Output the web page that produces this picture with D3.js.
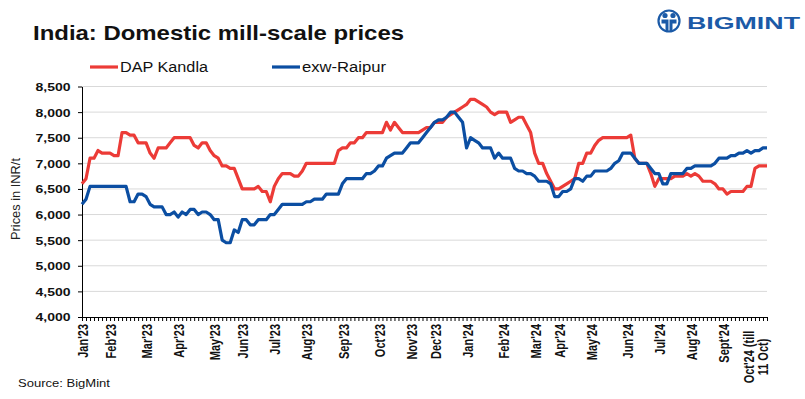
<!DOCTYPE html>
<html><head><meta charset="utf-8">
<script src="https://cdn.jsdelivr.net/npm/d3@7"></script>
<style>body{margin:0;background:#fff}svg{display:block}</style>
</head><body><svg id="c" width="805" height="399"></svg>
<script>
// ---- data ----
const seriesNames = ["DAP Kandla", "exw-Raipur"];
const dapKandla = [
  6600, 6700, 7100, 7100, 7250, 7200, 7200, 7200, 7150, 7150,
  7600, 7600, 7550, 7550, 7400, 7400, 7400, 7200, 7100, 7300,
  7300, 7300, 7400, 7500, 7500, 7500, 7500, 7500, 7350, 7300,
  7400, 7400, 7250, 7150, 7100, 6950, 6950, 6900, 6900, 6700,
  6500, 6500, 6500, 6500, 6550, 6450, 6450, 6250, 6550, 6700,
  6800, 6800, 6800, 6750, 6750, 6850, 7000, 7000, 7000, 7000,
  7000, 7000, 7000, 7000, 7250, 7300, 7300, 7400, 7400, 7500,
  7500, 7600, 7600, 7600, 7600, 7600, 7800, 7650, 7800, 7700,
  7600, 7600, 7600, 7600, 7600, 7650, 7700, 7700, 7800, 7800,
  7800, 7900, 7950, 8000, 8050, 8100, 8150, 8250, 8250, 8200,
  8150, 8100, 8000, 7950, 8000, 8000, 8000, 7800, 7850, 7900,
  7900, 7750, 7600, 7200, 7000, 7000, 6800, 6650, 6500, 6500,
  6550, 6600, 6650, 6700, 7000, 7000, 7200, 7200, 7350, 7450,
  7500, 7500, 7500, 7500, 7500, 7500, 7500, 7550, 7100, 7000,
  7000, 7000, 6800, 6550, 6700, 6700, 6700, 6700, 6750, 6750,
  6750, 6800, 6750, 6800, 6750, 6650, 6650, 6650, 6600, 6500,
  6500, 6400, 6450, 6450, 6450, 6450, 6550, 6550, 6900, 6950,
  6950, 6950
];
const exwRaipur = [
  6200, 6300, 6550, 6550, 6550, 6550, 6550, 6550, 6550, 6550,
  6550, 6550, 6250, 6250, 6400, 6400, 6350, 6200, 6150, 6150,
  6150, 6000, 6000, 6050, 5950, 6050, 6000, 6100, 6100, 6000,
  6050, 6050, 6000, 5900, 5900, 5500, 5450, 5450, 5700, 5650,
  5900, 5900, 5800, 5800, 5900, 5900, 5900, 6000, 6000, 6100,
  6200, 6200, 6200, 6200, 6200, 6200, 6250, 6250, 6300, 6300,
  6300, 6400, 6400, 6400, 6400, 6600, 6700, 6700, 6700, 6700,
  6700, 6800, 6800, 6850, 6950, 6950, 7100, 7150, 7200, 7200,
  7200, 7300, 7400, 7400, 7400, 7500, 7600, 7700, 7800, 7850,
  7850, 7900, 8000, 8000, 7900, 7800, 7300, 7500, 7450, 7400,
  7300, 7300, 7300, 7100, 7200, 7100, 7100, 7100, 6900, 6850,
  6850, 6800, 6800, 6750, 6650, 6650, 6650, 6600, 6350, 6350,
  6450, 6450, 6500, 6700, 6700, 6650, 6750, 6750, 6850, 6850,
  6850, 6850, 6900, 7000, 7050, 7200, 7200, 7200, 7100, 7000,
  7000, 7000, 6900, 6800, 6800, 6600, 6600, 6800, 6800, 6800,
  6800, 6900, 6900, 6950, 6950, 6950, 6950, 6950, 7000, 7100,
  7100, 7100, 7150, 7150, 7200, 7200, 7250, 7200, 7250, 7250,
  7300, 7300
];
const monthLabels = ["Jan'23","Feb'23","Mar'23","Apr'23","May'23","Jun'23","Jul'23","Aug'23",
  "Sep'23","Oct'23","Nov'23","Dec'23","Jan'24","Feb'24","Mar'24","Apr'24","May'24","Jun'24",
  "Jul'24","Aug'24","Sept'24","Oct'24 (till|11 Oct)"];
const monthIndex = [0, 7, 16, 24, 33, 40, 48, 56, 65, 74, 82, 88, 96, 105, 113, 119, 127, 136, 144, 152, 160, 168];
const yTicks = [4000, 4500, 5000, 5500, 6000, 6500, 7000, 7500, 8000, 8500];

// ---- drawing ----
const FONT = "'Liberation Sans', Arial, sans-serif";
const RED = "#ec3b37", BLUE = "#0b4ea2";
const svg = d3.select("#c").style("font-family", FONT);
const plotLeft = 82, plotRight = 767, plotTop = 86.5, plotBottom = 317;
const n = dapKandla.length;
const x = d3.scaleLinear().domain([0, n - 1]).range([plotLeft, plotRight]);
const y = d3.scaleLinear().domain([4000, 8500]).range([plotBottom, plotTop]);

// title
svg.append("text").attr("x", 33).attr("y", 40)
  .attr("font-size", 21).attr("font-weight", "bold").attr("fill", "#111")
  .attr("textLength", 371).attr("lengthAdjust", "spacingAndGlyphs")
  .text("India: Domestic mill-scale prices");

// logo
const logo = svg.append("g").attr("fill", "#1b5aa7");
logo.append("circle").attr("cx", 669).attr("cy", 21).attr("r", 10.5)
  .attr("fill", "none").attr("stroke", "#1b5aa7").attr("stroke-width", 2.2);
logo.append("circle").attr("cx", 665).attr("cy", 15.5).attr("r", 2.6);
logo.append("circle").attr("cx", 673).attr("cy", 15.5).attr("r", 2.6);
logo.append("path").attr("d", "M661.5,19.5 h7 v12 h-3 v-8 h-4z M669.5,19.5 h7 v4 h-4 v8 h-3z");
logo.append("text").attr("x", 687).attr("y", 28.5)
  .attr("font-size", 17).attr("font-weight", "bold")
  .attr("textLength", 113).attr("lengthAdjust", "spacingAndGlyphs")
  .text("BIGMINT");

// legend
const legend = [
  {name: seriesNames[0], color: RED, x0: 90, len: 88},
  {name: seriesNames[1], color: BLUE, x0: 272, len: 84}
];
legend.forEach(l => {
  svg.append("line").attr("x1", l.x0).attr("x2", l.x0 + 28).attr("y1", 67).attr("y2", 67)
    .attr("stroke", l.color).attr("stroke-width", 3.2);
  svg.append("text").attr("x", l.x0 + 30).attr("y", 72).attr("font-size", 14).attr("fill", "#111")
    .attr("textLength", l.len).attr("lengthAdjust", "spacingAndGlyphs").text(l.name);
});

// gridlines
svg.append("g").selectAll("line").data(yTicks.filter(v => v > 4000)).join("line")
  .attr("x1", plotLeft).attr("x2", plotRight).attr("y1", d => y(d)).attr("y2", d => y(d))
  .attr("stroke", "#d9d9d9").attr("stroke-width", 1);

// y axis
const yAxis = svg.append("g").attr("transform", `translate(${plotLeft},0)`)
  .call(d3.axisLeft(y).tickValues(yTicks).tickSize(4).tickSizeOuter(0).tickFormat(d3.format(",")));
yAxis.select(".domain").attr("stroke", "#000");
yAxis.selectAll(".tick line").attr("stroke", "#000");
yAxis.selectAll(".tick text").attr("x", -11.5).attr("dy", "0.36em")
  .attr("font-size", 11).attr("font-weight", "bold").attr("font-family", FONT).attr("fill", "#111")
  .attr("textLength", 35).attr("lengthAdjust", "spacingAndGlyphs");

// y title
svg.append("text").attr("transform", "translate(20,199) rotate(-90)")
  .attr("text-anchor", "middle").attr("font-size", 12.5).attr("fill", "#222")
  .attr("textLength", 82).attr("lengthAdjust", "spacingAndGlyphs")
  .text("Prices in INR/t");

// x axis
const xAxis = svg.append("g").attr("transform", `translate(0,${plotBottom})`)
  .call(d3.axisBottom(x).tickValues(d3.range(n)).tickSize(4).tickSizeOuter(0).tickFormat(""));
xAxis.select(".domain").attr("stroke", "#000");
xAxis.selectAll(".tick line").attr("stroke", "#000");

// x labels (rotated)
const labG = svg.append("g");
monthLabels.forEach((lab, i) => {
  const lines = lab.split("|");
  const cx = x(monthIndex[i]) + 1;
  if (lines.length === 1) {
    labG.append("text")
      .attr("transform", `translate(${cx},${plotBottom + 7}) scale(1.3,1) rotate(-90)`)
      .attr("text-anchor", "end").attr("dy", "0.36em")
      .attr("font-size", 11).attr("font-weight", "bold").attr("fill", "#111")
      .text(lab);
  } else {
    lines.forEach((ln, j) => {
      labG.append("text")
        .attr("transform", `translate(${cx - 7 + j * 14},${plotBottom + 40}) scale(1.3,1) rotate(-90)`)
        .attr("text-anchor", "middle").attr("dy", "0.36em")
        .attr("font-size", 11).attr("font-weight", "bold").attr("fill", "#111")
        .text(ln);
    });
  }
});

// lines
const lineGen = d3.line().x((d, i) => x(i)).y(d => y(d));
[[dapKandla, RED], [exwRaipur, BLUE]].forEach(([data, col]) => {
  svg.append("path").datum(data).attr("d", lineGen)
    .attr("fill", "none").attr("stroke", col).attr("stroke-width", 3.2)
    .attr("stroke-linejoin", "round");
});

// source
svg.append("text").attr("x", 18).attr("y", 387).attr("font-size", 11).attr("fill", "#111")
  .attr("textLength", 92).attr("lengthAdjust", "spacingAndGlyphs")
  .text("Source: BigMint");
</script></body></html>
